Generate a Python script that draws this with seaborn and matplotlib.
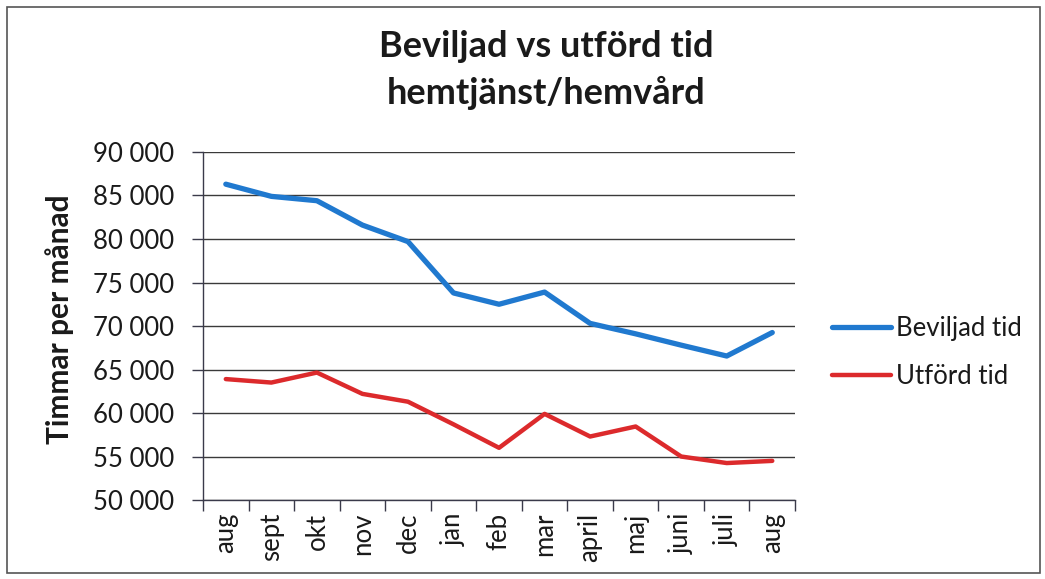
import numpy as np
import pandas as pd
import seaborn as sns
import matplotlib.pyplot as plt
import matplotlib.ticker as mticker
from matplotlib.patches import Rectangle

# ─── DATA ────────────────────────────────────────────────────────────────────
MONTHS = ["aug", "sept", "okt", "nov", "dec", "jan", "feb",
          "mar", "april", "maj", "juni", "juli", "aug"]
BEVILJAD = [86300, 84900, 84400, 81600, 79700, 73800, 72500,
            73900, 70300, 69100, 67800, 66550, 69250]
UTFORD = [63900, 63500, 64650, 62200, 61300, 58700, 56000,
          59900, 57300, 58450, 55000, 54250, 54500]
SERIES = ["Beviljad tid", "Utförd tid"]
Y_TICKS = [50000, 55000, 60000, 65000, 70000, 75000, 80000, 85000, 90000]

TITLE = "Beviljad vs utförd tid\nhemtjänst/hemvård"
Y_LABEL = "Timmar per månad"

BLUE = "#2079CF"
RED = "#DC2A2C"
INK = "#1a1a1a"
FONT = "Lato"
TICK_FS = 18.5

# ─── LONG FORMAT ─────────────────────────────────────────────────────────────
pos = np.arange(len(MONTHS))
df = pd.concat([
    pd.DataFrame({"pos": pos, "timmar": BEVILJAD, "serie": SERIES[0]}),
    pd.DataFrame({"pos": pos, "timmar": UTFORD, "serie": SERIES[1]}),
], ignore_index=True)

sns.set_theme(style="white")
plt.rcParams["font.family"] = [FONT, "DejaVu Sans"]

fig = plt.figure(figsize=(10.45, 5.79), dpi=100)
ax = fig.add_axes([0.1943, 0.1364, 0.7608 - 0.1943, 0.7375 - 0.1364])

sns.lineplot(data=df, x="pos", y="timmar", hue="serie", hue_order=SERIES,
             palette=[BLUE, RED], ax=ax, legend=False)
for line, lw in zip(ax.get_lines(), [3.8, 3.2]):
    line.set_linewidth(lw)
    line.set_solid_capstyle("round")
    line.set_solid_joinstyle("round")

# ─── AXES ────────────────────────────────────────────────────────────────────
ax.set_xlim(-0.5, len(MONTHS) - 0.5)
ax.set_ylim(Y_TICKS[0], Y_TICKS[-1])
ax.set_yticks(Y_TICKS)
ax.yaxis.set_major_formatter(mticker.FuncFormatter(
    lambda v, _: f"{int(v):,}".replace(",", " ")))
ax.yaxis.grid(True, color="#3a3a3a", linewidth=1.0)
ax.set_axisbelow(True)

# boundary ticks between categories, labels in the middle
ax.set_xticks(np.arange(-0.5, len(MONTHS), 1.0))
ax.set_xticklabels([])
ax.set_xticks(pos, minor=True)
ax.set_xticklabels(MONTHS, minor=True, rotation=90, fontsize=TICK_FS,
                   color=INK)
ax.tick_params(axis="x", which="major", direction="out", length=8,
               width=1, color="#3a3a4a", bottom=True)
ax.tick_params(axis="x", which="minor", length=0, pad=9)
ax.tick_params(axis="y", direction="out", length=8, width=1,
               color="#3a3a4a", left=True, labelsize=TICK_FS,
               labelcolor=INK, pad=13)

for side in ["top", "right"]:
    ax.spines[side].set_visible(False)
for side in ["left", "bottom"]:
    ax.spines[side].set_color("#3a3a4a")
    ax.spines[side].set_linewidth(1.0)

ax.set_xlabel("")
ax.set_ylabel(Y_LABEL, fontsize=21.5, fontweight="bold", color=INK)
ax.yaxis.set_label_coords(-0.218, 0.52)

fig.text(0.523, 0.948, TITLE, ha="center", va="top", fontsize=26,
         fontweight="bold", color=INK, linespacing=1.45)

# ─── LEGEND ──────────────────────────────────────────────────────────────────
handles = [plt.Line2D([], [], color=c, linewidth=lw)
           for c, lw in zip([BLUE, RED], [3.8, 3.2])]
ax.legend(handles, SERIES, loc="center left", bbox_to_anchor=(1.023, 0.425),
          frameon=False, fontsize=TICK_FS, handlelength=2.3,
          handletextpad=0.2, labelspacing=0.9, labelcolor=INK)

# outer border
fig.patches.append(Rectangle((0.007, 0.01), 0.988, 0.978,
                             transform=fig.transFigure, fill=False,
                             edgecolor="#555555", linewidth=1.2))

fig.savefig("out.png", dpi=100)
